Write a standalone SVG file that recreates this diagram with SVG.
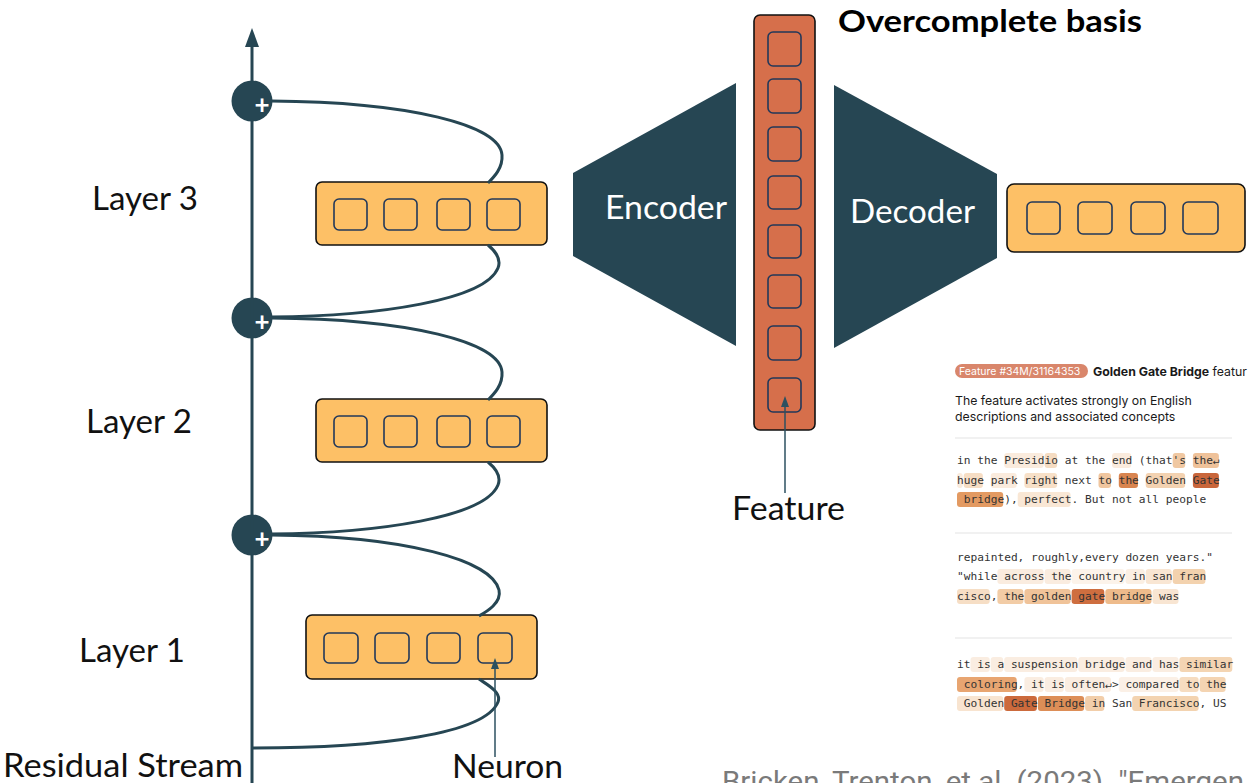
<svg xmlns="http://www.w3.org/2000/svg" width="1249" height="783" viewBox="0 0 1249 783">
  <style>
    .lbl { font-family: Lato, "Open Sans", sans-serif; font-size: 32px; fill: #111; }
    .lblw { font-family: Lato, "Open Sans", sans-serif; font-size: 32px; fill: #ffffff; }
    .plus { font-family: Lato, "Liberation Sans", sans-serif; font-size: 26px; font-weight: bold; fill: #ffffff; text-anchor: middle; }
    .layer { fill: #FDC066; stroke: #111; stroke-width: 1.6; }
    .cell { fill: none; stroke: #22385A; stroke-width: 1.6; }
    .wire { fill: none; stroke: #264653; stroke-width: 3; }
    .node { fill: #264653; }
    .ptr { stroke: #2C5160; stroke-width: 1.5; fill: none; }
    .tip { fill: #2C5160; }
    .mono { font-family: "DejaVu Sans Mono", "Liberation Mono", monospace; font-size: 11.2px; fill: #333; white-space: pre; }
    .sans { font-family: Inter, "Noto Sans", sans-serif; font-size: 12.3px; fill: #1a1a1a; }
    .sep { stroke: #e3e3e3; stroke-width: 1; }
  </style>

  <rect width="1249" height="783" fill="#ffffff"/>

  <!-- adders on the residual stream -->
  <g id="add3">
    <circle class="node" cx="252" cy="101" r="20.5"/>
    <text class="plus" x="262" y="114">+</text>
  </g>
  <g id="add2">
    <circle class="node" cx="252" cy="318" r="20.5"/>
    <text class="plus" x="262" y="331">+</text>
  </g>
  <g id="add1">
    <circle class="node" cx="252" cy="535" r="20.5"/>
    <text class="plus" x="262" y="548">+</text>
  </g>

  <!-- transformer layers -->
  <g id="layer3">
    <rect class="layer" x="316" y="182" width="231" height="63" rx="6"/>
    <rect class="cell" x="334" y="199" width="33" height="31" rx="5"/>
    <rect class="cell" x="384" y="199" width="33" height="31" rx="5"/>
    <rect class="cell" x="437" y="199" width="33" height="31" rx="5"/>
    <rect class="cell" x="487" y="199" width="33" height="31" rx="5"/>
  </g>
  <g id="layer2">
    <rect class="layer" x="316" y="399" width="231" height="63" rx="6"/>
    <rect class="cell" x="334" y="416" width="33" height="31" rx="5"/>
    <rect class="cell" x="384" y="416" width="33" height="31" rx="5"/>
    <rect class="cell" x="437" y="416" width="33" height="31" rx="5"/>
    <rect class="cell" x="487" y="416" width="33" height="31" rx="5"/>
  </g>
  <g id="layer1">
    <rect class="layer" x="306" y="615" width="231" height="64" rx="6"/>
    <rect class="cell" x="324" y="633" width="34" height="30" rx="5"/>
    <rect class="cell" x="375" y="633" width="34" height="30" rx="5"/>
    <rect class="cell" x="427" y="633" width="33" height="30" rx="5"/>
    <rect class="cell" x="478" y="633" width="34" height="30" rx="5"/>
  </g>

  <g id="labels">
    <text class="lbl" x="92" y="210" textLength="106" lengthAdjust="spacingAndGlyphs">Layer 3</text>
    <text class="lbl" x="86" y="433" textLength="106" lengthAdjust="spacingAndGlyphs">Layer 2</text>
    <text class="lbl" x="79" y="662" textLength="106" lengthAdjust="spacingAndGlyphs">Layer 1</text>
    <text class="lbl" x="3" y="777" textLength="240" lengthAdjust="spacingAndGlyphs">Residual Stream</text>
    <text class="lbl" x="452" y="778" textLength="111" lengthAdjust="spacingAndGlyphs">Neuron</text>
    <text class="lbl" x="732" y="520" textLength="113" lengthAdjust="spacingAndGlyphs">Feature</text>
  </g>

  <!-- sparse autoencoder -->
  <g id="encoder">
    <polygon class="node" points="573,173 736,83 736,346 573,256"/>
    <text class="lblw" x="605" y="219" textLength="122" lengthAdjust="spacingAndGlyphs">Encoder</text>
  </g>
  <g id="features">
    <rect x="754" y="15" width="61" height="415" rx="6" fill="#D66F4B" stroke="#111" stroke-width="1.6"/>
    <rect class="cell" x="768" y="32" width="33" height="34" rx="5"/>
    <rect class="cell" x="768" y="79" width="33" height="34" rx="5"/>
    <rect class="cell" x="768" y="127" width="33" height="34" rx="5"/>
    <rect class="cell" x="768" y="176" width="33" height="33" rx="5"/>
    <rect class="cell" x="768" y="225" width="33" height="33" rx="5"/>
    <rect class="cell" x="768" y="275" width="33" height="33" rx="5"/>
    <rect class="cell" x="768" y="326" width="33" height="34" rx="5"/>
    <rect class="cell" x="768" y="378" width="33" height="34" rx="5"/>
  </g>
  <g id="decoder">
    <polygon class="node" points="834,85 997,174 997,258 834,348"/>
    <text class="lblw" x="850" y="223" textLength="125" lengthAdjust="spacingAndGlyphs">Decoder</text>
  </g>
  <g id="reconstruction">
    <rect class="layer" x="1007" y="184" width="238" height="68" rx="7"/>
    <rect class="cell" x="1027" y="202" width="33" height="32" rx="5"/>
    <rect class="cell" x="1078" y="202" width="34" height="32" rx="5"/>
    <rect class="cell" x="1131" y="202" width="34" height="32" rx="5"/>
    <rect class="cell" x="1183" y="202" width="35" height="32" rx="5"/>
  </g>
  <text id="title" x="838" y="32" font-family="Lato, 'Open Sans', sans-serif" font-weight="bold" font-size="31" fill="#000" textLength="304" lengthAdjust="spacingAndGlyphs">Overcomplete basis</text>

  <!-- residual stream connectors and pointers, drawn over the boxes -->
  <g id="connectors">
    <line class="wire" x1="252" y1="783" x2="252" y2="121"/>
    <line class="wire" x1="252" y1="81" x2="252" y2="44"/>
    <path d="M245,47 L252,28 L259,47 Z" fill="#264653"/>
    <!-- layer 3 in / out -->
    <path class="wire" d="M271,101 C410,102 500,125 502,155 C503,168 494,177 488,183"/>
    <path class="wire" d="M488,245 C494,250 502,258 498,268 C485,300 380,316 271,317"/>
    <!-- layer 2 in / out -->
    <path class="wire" d="M271,318 C410,319 500,342 502,372 C503,385 494,394 488,400"/>
    <path class="wire" d="M488,462 C494,467 502,475 498,485 C485,517 380,533 271,534"/>
    <!-- layer 1 in / out -->
    <path class="wire" d="M271,535 C405,536 492,560 499,590 C502,603 486,612 479,616"/>
    <path class="wire" d="M479,679 C486,684 502,692 498,702 C485,734 380,748 252,748"/>
    <!-- pointers -->
    <line class="ptr" x1="495" y1="757" x2="495" y2="666"/>
    <polygon class="tip" points="491,669 495,658 499,669"/>
    <line class="ptr" x1="785" y1="493" x2="785" y2="404"/>
    <polygon class="tip" points="781,407 785,396 789,407"/>
  </g>

  <!-- feature card -->
  <g id="feature-card">
    <rect x="955" y="364" width="133" height="14" rx="7" fill="#D9866B"/>
    <text x="959" y="375" font-family="Inter, 'Noto Sans', sans-serif" font-size="10.5" fill="#fff">Feature #34M/31164353</text>
    <text x="1093" y="376" class="sans"><tspan font-weight="bold">Golden Gate Bridge</tspan> featur</text>
    <text x="955" y="405" class="sans">The feature activates strongly on English</text>
    <text x="955" y="421" class="sans">descriptions and associated concepts</text>
    <line class="sep" x1="955" y1="438" x2="1232" y2="438"/>
    <line class="sep" x1="955" y1="533" x2="1232" y2="533"/>
    <line class="sep" x1="955" y1="638" x2="1232" y2="638"/>

    <!-- example 1 -->
    <g id="ex1">
      <rect x="1004.2" y="453" width="39.4" height="15" rx="3" fill="#FAEBDD"/>
      <rect x="1044.6" y="453" width="12.5" height="15" rx="3" fill="#F5DCC2"/>
      <rect x="1112" y="453" width="19.2" height="15" rx="3" fill="#FAEBDD"/>
      <rect x="1172.7" y="453" width="12.5" height="15" rx="3" fill="#F0C8A2"/>
      <rect x="1192.9" y="453" width="26" height="15" rx="3" fill="#EFC29A"/>

      <rect x="957" y="473" width="5.7" height="15" rx="3" fill="#FAEBDD"/>
      <rect x="963.7" y="473" width="19.2" height="15" rx="3" fill="#F6DDC4"/>
      <rect x="990.7" y="473" width="26" height="15" rx="3" fill="#FAEBDD"/>
      <rect x="1024.4" y="473" width="32.7" height="15" rx="3" fill="#F7E0C8"/>
      <rect x="1098.5" y="473" width="12.5" height="15" rx="3" fill="#F0C69F"/>
      <rect x="1118.8" y="473" width="19.2" height="15" rx="3" fill="#D98550"/>
      <rect x="1145.7" y="473" width="39.4" height="15" rx="3" fill="#F3D2B1"/>
      <rect x="1192.9" y="473" width="26" height="15" rx="3" fill="#C9663B"/>

      <rect x="957" y="492" width="46.2" height="15" rx="3" fill="#E39A62"/>
      <rect x="1017.7" y="492" width="52.9" height="15" rx="3" fill="#F9E7D5"/>

      <text class="mono" x="957" y="464" xml:space="preserve">in the Presidio at the end (that's the↵</text>
      <text class="mono" x="957" y="484" xml:space="preserve">huge park right next to the Golden Gate</text>
      <text class="mono" x="957" y="503" xml:space="preserve"> bridge), perfect. But not all people</text>
    </g>

    <!-- example 2 -->
    <g id="ex2">
      <rect x="997.4" y="569" width="46.2" height="15" rx="3" fill="#FAECDF"/>
      <rect x="1044.6" y="569" width="26" height="15" rx="3" fill="#FAECDF"/>
      <rect x="1071.6" y="569" width="52.9" height="15" rx="3" fill="#FCF3EA"/>
      <rect x="1125.5" y="569" width="19.2" height="15" rx="3" fill="#FBEFE3"/>
      <rect x="1145.7" y="569" width="26" height="15" rx="3" fill="#F9E6D3"/>
      <rect x="1172.7" y="569" width="32.7" height="15" rx="3" fill="#F3D2AE"/>

      <rect x="957" y="589" width="32.7" height="15" rx="3" fill="#F6DEC5"/>
      <rect x="997.4" y="589" width="26" height="15" rx="3" fill="#F2CCA6"/>
      <rect x="1024.4" y="589" width="46.2" height="15" rx="3" fill="#F0C399"/>
      <rect x="1071.6" y="589" width="32.7" height="15" rx="3" fill="#CE6E3F"/>
      <rect x="1105.3" y="589" width="46.2" height="15" rx="3" fill="#EEBB8B"/>
      <rect x="1152.5" y="589" width="26" height="15" rx="3" fill="#F8E5D2"/>

      <text class="mono" x="957" y="561" xml:space="preserve">repainted, roughly,every dozen years."</text>
      <text class="mono" x="957" y="580" xml:space="preserve">"while across the country in san fran</text>
      <text class="mono" x="957" y="600" xml:space="preserve">cisco, the golden gate bridge was</text>
    </g>

    <!-- example 3 -->
    <g id="ex3">
      <rect x="970.5" y="657" width="19.2" height="15" rx="3" fill="#FAEDE1"/>
      <rect x="990.7" y="657" width="12.5" height="15" rx="3" fill="#FAEDE1"/>
      <rect x="1004.2" y="657" width="73.1" height="15" rx="3" fill="#FAEDE1"/>
      <rect x="1078.3" y="657" width="46.2" height="15" rx="3" fill="#FAEDE1"/>
      <rect x="1125.5" y="657" width="26" height="15" rx="3" fill="#FAEDE1"/>
      <rect x="1152.5" y="657" width="26" height="15" rx="3" fill="#FAEDE1"/>
      <rect x="1179.4" y="657" width="52.9" height="15" rx="3" fill="#F4D5B3"/>

      <rect x="957" y="677" width="59.7" height="15" rx="3" fill="#E8A571"/>
      <rect x="1024.4" y="677" width="19.2" height="15" rx="3" fill="#FAEDE1"/>
      <rect x="1044.6" y="677" width="19.2" height="15" rx="3" fill="#FAEDE1"/>
      <rect x="1064.8" y="677" width="46.2" height="15" rx="3" fill="#FAEDE1"/>
      <rect x="1118.8" y="677" width="59.7" height="15" rx="3" fill="#FBF0E6"/>
      <rect x="1179.4" y="677" width="19.2" height="15" rx="3" fill="#F6DCC0"/>
      <rect x="1199.6" y="677" width="26" height="15" rx="3" fill="#F4D4B2"/>

      <rect x="957" y="696" width="46.2" height="15" rx="3" fill="#F8E4D0"/>
      <rect x="1004.2" y="696" width="32.7" height="15" rx="3" fill="#CC6A3C"/>
      <rect x="1037.9" y="696" width="46.2" height="15" rx="3" fill="#DD8E57"/>
      <rect x="1085.1" y="696" width="19.2" height="15" rx="3" fill="#F2CEAA"/>
      <rect x="1132.2" y="696" width="66.4" height="15" rx="3" fill="#F3D3B0"/>

      <text class="mono" x="957" y="668" xml:space="preserve">it is a suspension bridge and has similar</text>
      <text class="mono" x="957" y="688" xml:space="preserve"> coloring, it is often↵> compared to the</text>
      <text class="mono" x="957" y="707" xml:space="preserve"> Golden Gate Bridge in San Francisco, US</text>
    </g>
  </g>

  <text id="citation" x="722" y="791" font-family="Roboto, 'Liberation Sans', sans-serif" font-size="28" fill="#7a7a7a" textLength="522" lengthAdjust="spacingAndGlyphs">Bricken, Trenton, et al. (2023). "Emergen</text>
</svg>
